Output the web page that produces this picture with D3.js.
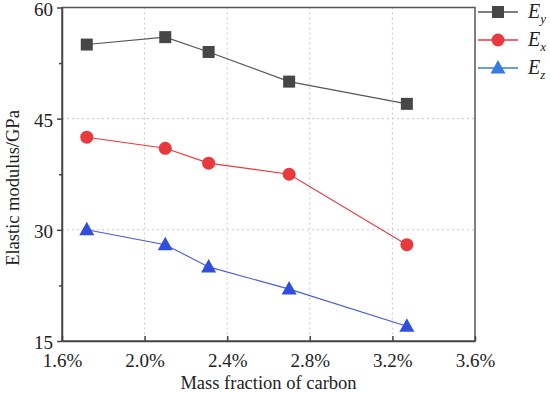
<!DOCTYPE html>
<html>
<head>
<meta charset="utf-8">
<script src="https://cdn.jsdelivr.net/npm/d3@7"></script>
<style>
  body { margin: 0; background: #fff; }
</style>
</head>
<body>
<div id="chart"></div>
<script>
// carbon mass fraction (%)
const carbon = [1.72, 2.10, 2.31, 2.70, 3.27];
const Ey = [55, 56, 54, 50, 47];
const Ex = [42.5, 41, 39, 37.5, 28];
const Ez = [30, 28, 25, 22, 17];
const xTicks = [1.6, 2.0, 2.4, 2.8, 3.2, 3.6];
const yTicks = [15, 30, 45, 60];
const yMinor = [22.5, 37.5, 52.5];

const series = [
  { name: 'y', values: Ey, color: '#474747', line: '#555', shape: 'square' },
  { name: 'x', values: Ex, color: '#e8393e', line: '#e8393e', shape: 'circle' },
  { name: 'z', values: Ez, color: '#2f4fdc', line: '#4a5ad8', shape: 'triangle', legendLine: '#3a7be0' }
];

const FONT = '"Liberation Serif", "Times New Roman", serif';
const W = 550, H = 393;
const margin = { top: 7.5, right: 75, bottom: 52, left: 62 };
const width = W - margin.left - margin.right;
const height = H - margin.top - margin.bottom;

const svg = d3.select('#chart').append('svg')
  .attr('width', W)
  .attr('height', H);

const g = svg.append('g')
  .attr('transform', `translate(${margin.left},${margin.top})`);

const x = d3.scaleLinear().domain([1.6, 3.6]).range([0, width]);
const y = d3.scaleLinear().domain([15, 60]).range([height, 0]);

// grid
g.append('g').selectAll('line')
  .data(xTicks.slice(1, -1)).enter().append('line')
  .attr('x1', d => x(d)).attr('x2', d => x(d))
  .attr('y1', 0).attr('y2', height)
  .attr('stroke', '#c8c8c8').attr('stroke-dasharray', '2,3');
g.append('g').selectAll('line')
  .data(yTicks.slice(1, -1)).enter().append('line')
  .attr('x1', 0).attr('x2', width)
  .attr('y1', d => y(d)).attr('y2', d => y(d))
  .attr('stroke', '#c8c8c8').attr('stroke-dasharray', '2,3');

// frame
g.append('rect')
  .attr('width', width).attr('height', height)
  .attr('fill', 'none').attr('stroke', '#555').attr('stroke-width', 1.5);

// axes
const xAxis = g.append('g')
  .attr('transform', `translate(0,${height})`)
  .call(d3.axisBottom(x).tickValues(xTicks).tickSizeInner(-5).tickSizeOuter(0)
    .tickFormat(d => d.toFixed(1) + '%'));
xAxis.selectAll('text').attr('y', 13).attr('font-size', 19).attr('fill', '#222');

const yAxis = g.append('g')
  .call(d3.axisLeft(y).tickValues(yTicks).tickSize(5).tickSizeOuter(0));
yAxis.selectAll('text').attr('x', -9).attr('dy', '0.4em').attr('font-size', 19).attr('fill', '#222');
g.append('g')
  .call(d3.axisLeft(y).tickValues(yMinor).tickSize(3).tickSizeOuter(0).tickFormat(''))
  .select('.domain').remove();
g.selectAll('.domain, .tick line').attr('stroke', '#444').attr('stroke-width', 1.5);

// axis titles
svg.append('text')
  .attr('x', margin.left + width / 2).attr('y', 389)
  .attr('text-anchor', 'middle').attr('font-size', 18.5).attr('fill', '#222')
  .text('Mass fraction of carbon');
svg.append('text')
  .attr('transform', 'translate(19,188) rotate(-90)')
  .attr('text-anchor', 'middle').attr('font-size', 18.5).attr('fill', '#222')
  .text('Elastic modulus/GPa');

function marker(sel, shape, color) {
  if (shape === 'square') {
    sel.append('rect').attr('x', -6).attr('y', -6).attr('width', 12).attr('height', 12).attr('fill', color);
  } else if (shape === 'circle') {
    sel.append('circle').attr('r', 6.5).attr('fill', color);
  } else {
    sel.append('path').attr('d', 'M0,-8L7.5,5.5L-7.5,5.5Z').attr('fill', color);
  }
}

const line = d3.line().x(d => x(d[0])).y(d => y(d[1]));

series.forEach(s => {
  const pts = carbon.map((c, i) => [c, s.values[i]]);
  g.append('path').datum(pts)
    .attr('d', line).attr('fill', 'none')
    .attr('stroke', s.line).attr('stroke-width', 1.1);
  g.selectAll(null).data(pts).enter().append('g')
    .attr('transform', d => `translate(${x(d[0])},${y(d[1])})`)
    .each(function () { marker(d3.select(this), s.shape, s.color); });
});

// legend
const legend = svg.append('g').attr('transform', 'translate(478,12)');
series.forEach((s, i) => {
  const row = legend.append('g').attr('transform', `translate(0,${i * 28})`);
  row.append('line').attr('x1', 0).attr('x2', 40)
    .attr('stroke', s.legendLine || s.line).attr('stroke-width', 1.3);
  const m = row.append('g').attr('transform', 'translate(20,0)');
  marker(m, s.shape, s.legendLine || s.color);
  const t = row.append('text').attr('x', 50).attr('y', 6)
    .attr('font-size', 20).attr('font-style', 'italic').attr('fill', '#222');
  t.append('tspan').text('E');
  t.append('tspan').attr('font-size', 13).attr('dy', 5).text(s.name);
});

// serif everywhere, over the axis default
svg.selectAll('text').style('font-family', FONT);
</script>
</body>
</html>
